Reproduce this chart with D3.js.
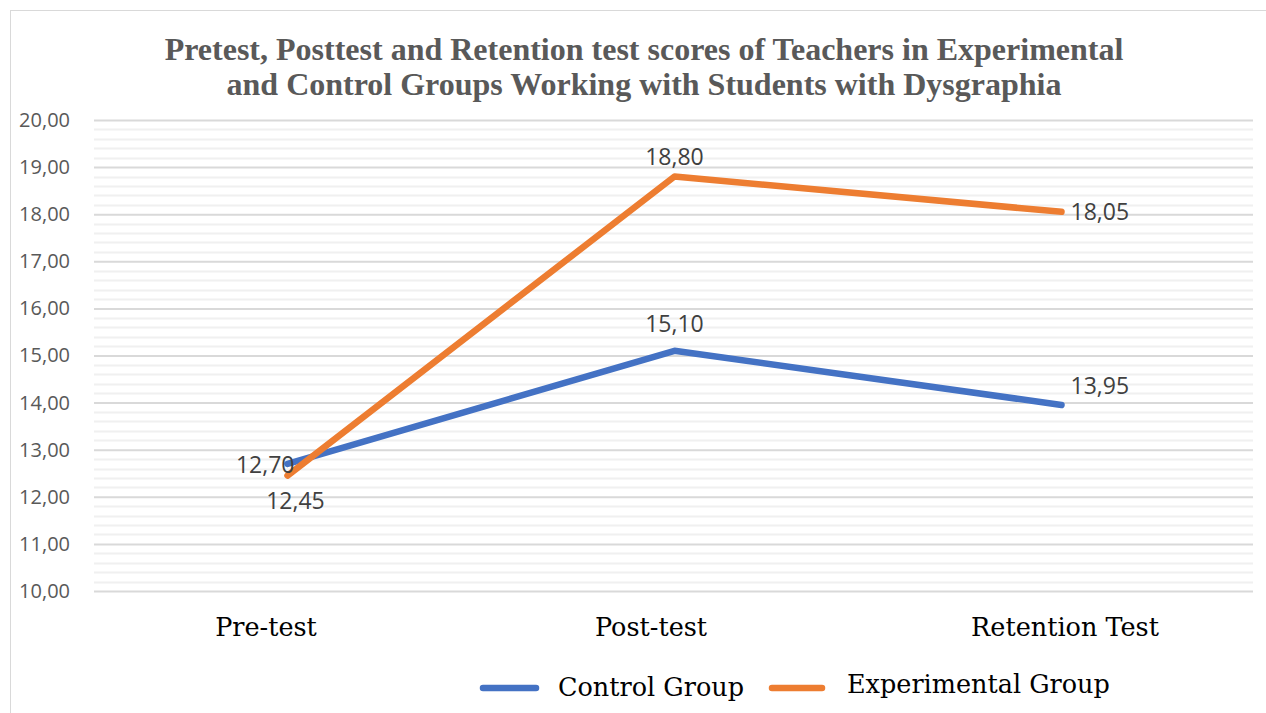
<!DOCTYPE html>
<html>
<head>
<meta charset="utf-8">
<script src="https://cdn.jsdelivr.net/npm/d3@7/dist/d3.min.js"></script>
<style>
html,body{margin:0;padding:0;background:#fff;}
svg{display:block;}
</style>
</head>
<body>
<svg id="chart" width="1266" height="713"></svg>
<script>
const categories = ["Pre-test", "Post-test", "Retention Test"];
const controlValues = [12.70, 15.10, 13.95];
const experimentalValues = [12.45, 18.80, 18.05];
const seriesNames = ["Control Group", "Experimental Group"];
const yTicks = [10, 11, 12, 13, 14, 15, 16, 17, 18, 19, 20];
const titleLines = ["Pretest, Posttest and Retention test scores of Teachers in Experimental",
                    "and Control Groups Working with Students with Dysgraphia"];

const colors = ["#4472C4", "#ED7D31"];
// label placements: [dx, dy, anchor]
const labelPlacement = [
  [[7, 1, "end"], [0, -27, "middle"], [9, -19, "start"]],
  [[8, 25, "middle"], [0, -20, "middle"], [9, 0, "start"]]
];
const categoryLabelShift = [-22, -24, 3];

const svg = d3.select("#chart");
const fmt = v => v.toFixed(2).replace(".", ",");

// outer frame
svg.append("rect").attr("x", 10.5).attr("y", 10.5).attr("width", 1270).attr("height", 720)
  .attr("fill", "#fff").attr("stroke", "#d9d9d9").attr("stroke-width", 1);

const x = d3.scalePoint().domain(categories).range([94, 1255]).padding(0.5);
const y = d3.scaleLinear().domain([10, 20]).range([591, 120]);

// minor gridlines
const minor = d3.range(10, 20.001, 0.2).filter(v => Math.abs(v - Math.round(v)) > 1e-6);
svg.append("g").selectAll("line").data(minor).join("line")
  .attr("x1", 94).attr("x2", 1253)
  .attr("y1", d => Math.round(y(d)) + 0.5).attr("y2", d => Math.round(y(d)) + 0.5)
  .attr("stroke", "#f0f0f0").attr("stroke-width", 2);

// major gridlines via axis
const gy = svg.append("g").attr("transform", "translate(94,0)")
  .call(d3.axisLeft(y).tickValues(yTicks).tickSize(-1159).tickFormat(fmt).tickPadding(24));
gy.select(".domain").remove();
gy.selectAll(".tick line").attr("stroke", "#d9d9d9").attr("stroke-width", 2);
gy.selectAll(".tick text").attr("fill", "#595959")
  .style("font-family", "'Open Sans', sans-serif").style("font-size", "20px");

// x axis labels
const gx = svg.append("g").attr("transform", "translate(0,591)")
  .call(d3.axisBottom(x).tickSize(0).tickPadding(27));
gx.select(".domain").remove();
gx.selectAll(".tick text").attr("fill", "#000")
  .attr("dx", (d, i) => categoryLabelShift[i])
  .style("font-family", "'DejaVu Serif', serif").style("font-size", "25.5px");

// lines
const allSeries = [controlValues, experimentalValues];
const line = d3.line().x((d, i) => x(categories[i])).y(d => y(d));
allSeries.forEach((vals, s) => {
  svg.append("path").datum(vals).attr("d", line)
    .attr("fill", "none").attr("stroke", colors[s]).attr("stroke-width", 6.5)
    .attr("stroke-linecap", "round").attr("stroke-linejoin", "round");
});

// data labels
allSeries.forEach((vals, s) => {
  svg.append("g").selectAll("text").data(vals).join("text")
    .attr("x", (d, i) => x(categories[i]) + labelPlacement[s][i][0])
    .attr("y", (d, i) => y(d) + labelPlacement[s][i][1])
    .attr("dy", "0.35em")
    .attr("text-anchor", (d, i) => labelPlacement[s][i][2])
    .attr("fill", "#404040")
    .style("font-family", "'Open Sans', sans-serif").style("font-size", "23px")
    .text(d => fmt(d));
});

// title
svg.append("g").selectAll("text").data(titleLines).join("text")
  .attr("x", 644).attr("y", (d, i) => 60 + i * 35)
  .attr("text-anchor", "middle").attr("fill", "#595959")
  .style("font-family", "'Liberation Serif', 'Times New Roman', serif")
  .style("font-weight", "bold").style("font-size", "32px")
  .text(d => d);

// legend
const legendItems = [
  {name: seriesNames[0], color: colors[0], x1: 483, x2: 536, tx: 558, ty: 696},
  {name: seriesNames[1], color: colors[1], x1: 772, x2: 822, tx: 847, ty: 693}
];
const lg = svg.append("g");
legendItems.forEach(it => {
  lg.append("line").attr("x1", it.x1).attr("x2", it.x2).attr("y1", 688).attr("y2", 688)
    .attr("stroke", it.color).attr("stroke-width", 6.5).attr("stroke-linecap", "round");
  lg.append("text").attr("x", it.tx).attr("y", it.ty).attr("fill", "#000")
    .style("font-family", "'DejaVu Serif', serif").style("font-size", "25.5px").text(it.name);
});
</script>
</body>
</html>
